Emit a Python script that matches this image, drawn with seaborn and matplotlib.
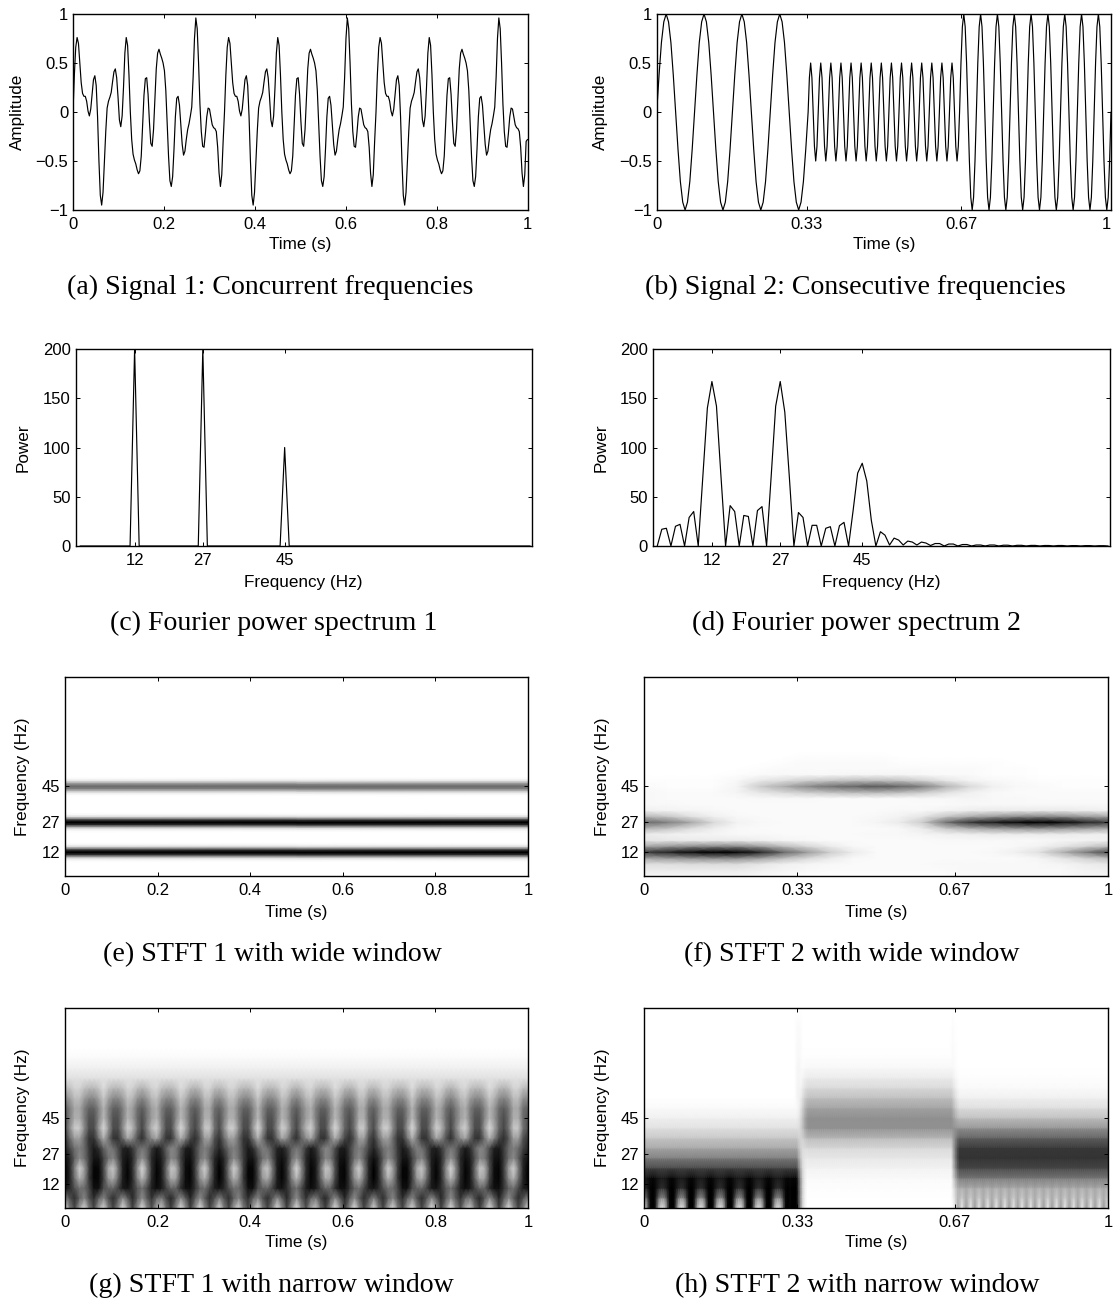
import numpy as np
import pandas as pd
import matplotlib
matplotlib.use("Agg")
import matplotlib.pyplot as plt
import seaborn as sns

# ---------------- values ----------------
# Signal 1 is visibly periodic: one 1/3 s period, sampled every 1/333 s
sig1_period = [0.00,.38,.66,.76,.70,.50,.30,.19,.16,.16,.11,.01,-.04,.03,.18,.33,.37,.27,-.05,-.50,-.85,-.95,
               -.82,-.52,-.20,.04,.11,.15,.20,.31,.41,.44,.35,.15,-.08,-.15,-.04,.25,.60,.76,.68,.38,.00,-.28,
               -.43,-.49,-.53,-.59,-.63,-.60,-.45,-.15,.17,.34,.35,.18,-.10,-.32,-.35,-.18,.14,.44,.60,.64,.59,
               .55,.50,.42,.22,-.12,-.45,-.70,-.76,-.66,-.38,-.05,.14,.16,.07,-.13,-.33,-.44,-.40,-.28,-.18,-.12,
               -.04,.05,.35,.75,.96,.85,.50,.08,-.20,-.35,-.36,-.22,-.05,.04,.03,-.05,-.13,-.16,-.17,-.20,-.36,
               -.62,-.76,-.64,-.30]
sig1_end = [-.28]
sig1_repeats = 3

# Signal 2: one cycle per segment and how many cycles each segment shows
sig2_cycle_a = [0,.38,.71,.92,1,.92,.71,.38,0,-.38,-.71,-.92,-1,-.92,-.71,-.38]
sig2_cycle_b = [0,.35,.5,.35,0,-.35,-.5,-.35]
sig2_cycle_c = [0,.5,.87,1,.87,.5,0,-.5,-.87,-1,-.87,-.5]
sig2_counts = [4, 15, 9]
time_ticks_1 = [0, .2, .4, .6, .8, 1]
time_labels_1 = ["0", "0.2", "0.4", "0.6", "0.8", "1"]
time_ticks_2 = [0, .33, .67, 1]
time_labels_2 = ["0", "0.33", "0.67", "1"]
amp_ticks = [-1, -.5, 0, .5, 1]
amp_labels = ["\u22121", "\u22120.5", "0", "0.5", "1"]

freq_ticks = [12, 27, 45]
power_ticks = [0, 50, 100, 150, 200]
power1_freqs = freq_ticks
power1_peaks = [200, 200, 100]
power2 = [0,17,18,0,20,22,0,29,35,0,70,140,167,142,70,0,41,35,0,31,30,0,36,40,0,70,142,167,136,70,
          0,34,29,0,21,21,0,18,19.6,0,20.6,24,0,36,74,84,66,26,0,14.5,11,1,8,6,1,5,4,1,4,3,
          .5,2.5,2.5,0,2,2,0,1.5,1.5,0,1,1,0,1,1,0,.8,.8,0,.7,.7,0,.6,.6,0,.5,.5,0,.5,.5,
          0,.4,.4,0,.4,.4,0,.3,.3,0]

# (e) darkness (%) per 1 Hz row, constant along time, 0..59 Hz then white
stft_e_profile = [0,0,0,0,0,0,0,0,3,12,45,85,100,85,45,12,3,0,0,0,0,0,0,3,12,45,85,100,85,45,12,3,0,0,0,0,0,0,0,0,0,2,
                  10,30,50,58,50,30,10,2,0,0,0,0,0,0,0,0,0,0]
# (f) darkness (%) rows every 3 Hz (0..60), columns every 0.05 s
stft_f_rows = [
 [4,4,4,4,4,3,2,1,1,1,1,1,1,1,2,3,3,3,3,4,4],
 [8,8,8,8,8,6,4,3,2,2,2,2,2,2,3,3,3,3,3,5,6],
 [13,13,14,14,14,10,6,4,3,2,2,2,2,3,3,3,3,3,4,7,9],
 [36,40,44,46,46,38,26,16,8,3,2,2,2,2,2,2,2,4,10,18,26],
 [75,85,95,100,98,85,60,40,20,8,2,2,2,2,2,3,6,12,30,50,70],
 [34,40,44,46,46,38,26,16,8,3,2,2,2,2,2,2,3,5,10,17,26],
 [10,9,8,8,8,6,4,3,2,2,2,2,2,3,3,3,3,3,4,5,6],
 [8,6,5,4,3,3,2,2,2,2,3,3,4,6,7,8,8,8,8,7,7],
 [30,24,14,7,3,2,2,2,2,2,2,3,8,22,32,38,42,44,42,38,34],
 [58,50,35,15,5,3,2,2,2,2,4,8,20,55,78,88,96,100,96,85,75],
 [28,22,12,6,3,2,2,2,2,2,3,5,10,22,32,38,44,46,44,38,34],
 [6,5,4,3,2,2,2,2,2,2,2,3,3,5,7,8,8,8,8,7,6],
 [3,3,2,2,2,2,2,2,2,2,2,2,2,2,3,3,3,3,3,3,3],
 [3,2,2,2,2,3,3,3,2,2,2,2,3,3,4,3,3,2,2,2,2],
 [3,2,2,2,4,10,15,20,24,27,28,26,20,12,6,3,2,2,2,2,2],
 [2,1,1,1,4,20,32,45,55,60,65,60,50,30,15,6,3,2,1,1,1],
 [1,1,1,1,3,9,13,19,23,26,26,24,18,10,5,3,2,1,1,1,1],
 [0,0,0,0,1,2,3,3,3,4,4,4,3,2,2,1,1,0,0,0,0],
 [0,0,0,0,0,1,2,2,2,2,2,2,2,2,2,1,1,0,0,0,0],
 [0,0,0,0,0,0,1,2,2,2,2,1,1,1,1,1,0,0,0,0,0],
 [0,0,0,0,0,0,0,1,1,1,1,0,0,0,0,0,0,0,0,0,0],
]
# (g) darkness (%) one 1/3 s period in 32 columns, rows every 5 Hz from 0 to 60 Hz
stft_g_rows = [
 [15,50,72,38,15,50,72,38,15,50,72,48,13,42,74,45,12,45,68,35,22,55,75,48,13,42,75,45,12,45,72,50],
 [50,68,82,62,48,68,82,62,48,68,82,66,46,64,84,64,45,64,80,60,52,72,85,66,46,64,85,64,45,64,82,68],
 [92,84,68,56,58,72,94,94,70,62,60,74,90,92,82,66,56,70,88,95,90,74,60,62,82,94,94,80,62,56,72,88],
 [100,86,56,30,44,78,98,97,75,40,32,58,89,98,84,50,28,50,84,98,90,62,32,36,72,95,98,78,44,30,56,86],
 [100,85,50,18,38,75,98,97,72,33,22,52,88,98,82,45,15,45,82,98,90,58,22,30,68,95,98,75,38,18,50,85],
 [94,84,62,46,56,76,92,92,74,56,48,66,88,94,84,58,44,58,84,94,88,68,48,52,74,92,94,78,56,46,62,84],
 [86,72,56,50,58,78,90,82,62,50,56,70,86,88,78,62,54,60,78,90,82,62,48,52,70,88,90,76,58,50,58,74],
 [80,58,38,38,58,80,80,55,32,55,80,80,58,35,45,68,82,62,45,35,58,80,80,55,32,48,72,82,66,38,38,68],
 [70,45,20,20,45,70,70,40,15,40,70,70,45,18,28,55,72,50,28,18,45,70,70,40,15,33,60,72,55,22,22,55],
 [68,50,32,32,50,68,68,48,28,48,68,68,50,30,38,58,70,54,38,30,50,68,68,48,28,40,60,70,56,32,32,58],
 [62,50,34,34,50,62,62,48,30,48,62,62,50,32,38,56,64,52,38,32,50,62,62,48,30,40,58,64,54,34,34,56],
 [46,38,26,26,38,46,46,36,22,36,46,46,38,24,28,42,48,40,28,24,38,46,46,36,22,30,44,48,42,26,26,42],
 [28,24,17,17,24,28,28,23,14,23,28,28,24,16,18,26,30,25,18,16,24,28,28,23,14,19,27,30,26,17,17,26],
]
stft_g_upper = [12, 6, 2, 0, 0, 0, 0, 0]        # 65..100 Hz
stft_g_repeats = 3
# (h) rows every 5 Hz from 0 to 100 Hz
stft_h_a_cycle = [[10,25,65,98,100,98,65,25,10],
                  [45,55,78,97,100,97,78,55,45],
                  [82,86,92,98,100,98,92,86,82],
                  [90,91,93,96,97,96,93,91,90]]
stft_h_a_upper = [72,50,34,22,12,6,2,0,0,0,0,0,0,0,0,0,0]   # 20..100 Hz
stft_h_a_repeats = 8
stft_h_b = [0,0,1,2,5,9,15,27,43,44,36,25,15,8,3,1,0,0,0,0,0]
stft_h_c_cycle = [[8,25,38,25],[20,26,32,26],[30,32,34,32]]
stft_h_c_upper = [52,72,80,78,62,42,25,13,6,2,1,0,0,0,0,0,0,0]  # 15..100 Hz
stft_h_c_repeats = 18
stft_h_rise_b = [.1,.3,.55,.8,.95]
stft_h_tail_a = [.7,.4,.15,.05,0]
stft_h_rise_c = [.3,.6,.85,1,1]
stft_h_tail_b = [.7,.4,.15,0,0]
stft_h_spike = [0,0,0,0,0,0,0,0,0,0,4,5,5,4,4,3,3,2,2,1,0]

captions = ["(a) Signal 1: Concurrent frequencies", "(b) Signal 2: Consecutive frequencies",
            "(c) Fourier power spectrum 1", "(d) Fourier power spectrum 2",
            "(e) STFT 1 with wide window", "(f) STFT 2 with wide window",
            "(g) STFT 1 with narrow window", "(h) STFT 2 with narrow window"]

# ---------------- layout (pixels) ----------------
W, H = 1113, 1299
boxes = {"a": (73, 527.5, 14, 210), "b": (656.7, 1111, 14, 210),
         "c": (75.5, 532, 349, 546), "d": (652.7, 1110, 349, 546),
         "e": (65, 528, 677, 876), "f": (644, 1108, 677, 876),
         "g": (65, 528, 1008, 1208), "h": (644, 1108, 1008, 1208)}
caption_xy = [(270.5, 287.5), (855, 287.5), (274, 623.5), (856, 623.5), (272, 954.5), (852, 954.5), (271, 1285.5), (857, 1285.5)]
xlabel_y = {"a": 244, "b": 245, "c": 582, "d": 582, "e": 912, "f": 912, "g": 1243, "h": 1243}
ylabel_x = {"a": 17, "b": 600, "c": 23, "d": 601, "e": 23, "f": 602, "g": 23, "h": 603}

sns.set_theme(style="ticks")
plt.rcParams["font.family"] = ["Liberation Sans", "DejaVu Sans"]
plt.rcParams["axes.linewidth"] = 1.0
fig = plt.figure(figsize=(W / 100, H / 100), dpi=100, facecolor="white")


def make_axes(key):
    l, r, t, b = boxes[key]
    return fig.add_axes([l / W, 1 - b / H, (r - l) / W, (b - t) / H])


def finish(ax, key, xticks, xlabels, yticks, ylabels, xlab, ylab):
    l, r, t, b = boxes[key]
    ax.set_axisbelow(False)
    ax.set_xticks(xticks)
    ax.set_xticklabels(xlabels, rotation=0)
    ax.set_yticks(yticks)
    ax.set_yticklabels(ylabels, rotation=0)
    ax.tick_params(axis="both", which="both", direction="in", length=3, width=.7, color="black",
                   labelsize=12, top=True, right=True, bottom=True, left=True, labelcolor="black")
    ax.tick_params(axis="x", pad=5)
    ax.tick_params(axis="y", pad=3.5)
    for s in ax.spines.values():
        s.set_visible(True)
        s.set_color("black")
        s.set_linewidth(1.0)
        s.set_zorder(5)
    ax.set_xlabel(xlab, fontsize=12.3, color="black", va="center")
    ax.set_ylabel(ylab, fontsize=12.3, color="black", va="center")
    ax.xaxis.set_label_coords(.5, (b - xlabel_y[key]) / (b - t))
    ax.yaxis.set_label_coords((ylabel_x[key] - l) / (r - l), .5)
    if key == "b":                          # keep the "1" label inside the picture
        ax.get_xticklabels()[-1].set_ha("right")


def line(ax, x, y):
    sns.lineplot(x=np.asarray(x), y=np.asarray(y), ax=ax, color="black", linewidth=.85,
                 estimator=None, errorbar=None, sort=False, legend=False)


# (a)
ax = make_axes("a")
y1 = np.concatenate([np.tile(sig1_period, sig1_repeats), sig1_end])
line(ax, np.linspace(0, 1, len(y1)), y1)
ax.set(xlim=(0, 1), ylim=(-1, 1))
finish(ax, "a", time_ticks_1, time_labels_1, amp_ticks, amp_labels, "Time (s)", "Amplitude")

# (b)
ax = make_axes("b")
seg_t, seg_y = [], []
for i, (cyc, n) in enumerate(zip([sig2_cycle_a, sig2_cycle_b, sig2_cycle_c], sig2_counts)):
    v = np.tile(cyc, n)
    seg_t.append(np.linspace(i / 3, (i + 1) / 3, len(v), endpoint=False))
    seg_y.append(v)
line(ax, np.append(np.concatenate(seg_t), 1.0), np.append(np.concatenate(seg_y), 0.0))
ax.set(xlim=(0, 1), ylim=(-1, 1))
finish(ax, "b", time_ticks_2, time_labels_2, amp_ticks, amp_labels, "Time (s)", "Amplitude")

# (c)
ax = make_axes("c")
p1 = np.zeros(100)
p1[power1_freqs] = power1_peaks
line(ax, np.arange(100), p1)
ax.set(xlim=(-1, 99.4), ylim=(0, 200))
finish(ax, "c", freq_ticks, [str(v) for v in freq_ticks], power_ticks, [str(v) for v in power_ticks],
       "Frequency (Hz)", "Power")

# (d)
ax = make_axes("d")
line(ax, np.arange(len(power2)), power2)
ax.set(xlim=(-1, 99.4), ylim=(0, 200))
finish(ax, "d", freq_ticks, [str(v) for v in freq_ticks], power_ticks, [str(v) for v in power_ticks],
       "Frequency (Hz)", "Power")


def stft(key, matrix, df, tticks, tlabels):
    ax = make_axes(key)
    matrix = np.asarray(matrix, float)
    sns.heatmap(pd.DataFrame(matrix), ax=ax, cmap="gray_r", vmin=0, vmax=100, cbar=False,
                shading="gouraud", xticklabels=False, yticklabels=False)
    nc = matrix.shape[1]
    ax.set_xlim(0, nc - 1)
    ax.set_ylim(0, 100 / df)
    finish(ax, key, [t * (nc - 1) for t in tticks], tlabels, [f / df for f in freq_ticks],
           [str(f) for f in freq_ticks], "Time (s)", "Frequency (Hz)")


# (e)
prof = np.array(stft_e_profile + [0] * (101 - len(stft_e_profile)), float)
stft("e", np.column_stack([prof, prof]), 1, time_ticks_1, time_labels_1)

# (f)
rows_f = np.array(stft_f_rows, float)
rows_f = np.vstack([rows_f, np.zeros((34 - len(rows_f), rows_f.shape[1]))])
stft("f", rows_f, 3, time_ticks_2, time_labels_2)

# (g)
upper = np.column_stack([stft_g_upper] * 32)
g = np.vstack([np.array(stft_g_rows, float), upper])
g = np.tile(g, (1, stft_g_repeats))
g = np.hstack([g, g[:, :1]])
stft("g", g, 5, time_ticks_1, time_labels_1)

# (h)
a_block = np.vstack([np.array(stft_h_a_cycle, float),
                     np.column_stack([stft_h_a_upper] * 9)])
a_dark = a_block[:, 4]
h_a = np.tile(a_block, (1, stft_h_a_repeats))
h_a[:, -3:] = a_dark[:, None]
h_b = np.column_stack([stft_h_b] * 72).astype(float)
c_block = np.vstack([np.array(stft_h_c_cycle, float),
                     np.column_stack([stft_h_c_upper] * 4)])
h_c = np.tile(c_block, (1, stft_h_c_repeats))
h = np.hstack([h_a, h_b, h_c, h_c[:, :1]])
b_col = np.array(stft_h_b, float)
for i in range(5):
    h[:, 72 + i] = b_col * stft_h_rise_b[i] + a_dark * stft_h_tail_a[i]
    h[:, 144 + i] = h_c[:, i] * stft_h_rise_c[i] + b_col * stft_h_tail_b[i]
spike = np.array(stft_h_spike, float)
for c, s in [(71, .6), (72, 1.0), (73, .6), (143, .3), (144, .6), (145, .3)]:
    h[:, c] = np.maximum(h[:, c], spike * s)
stft("h", h, 5, time_ticks_2, time_labels_2)

for txt, (x, y) in zip(captions, caption_xy):
    fig.text(x / W, 1 - y / H, txt, ha="center", va="center", fontsize=20.1,
             family=["Liberation Serif", "DejaVu Serif"], color="black")

fig.savefig("out.png", dpi=100, facecolor="white")
